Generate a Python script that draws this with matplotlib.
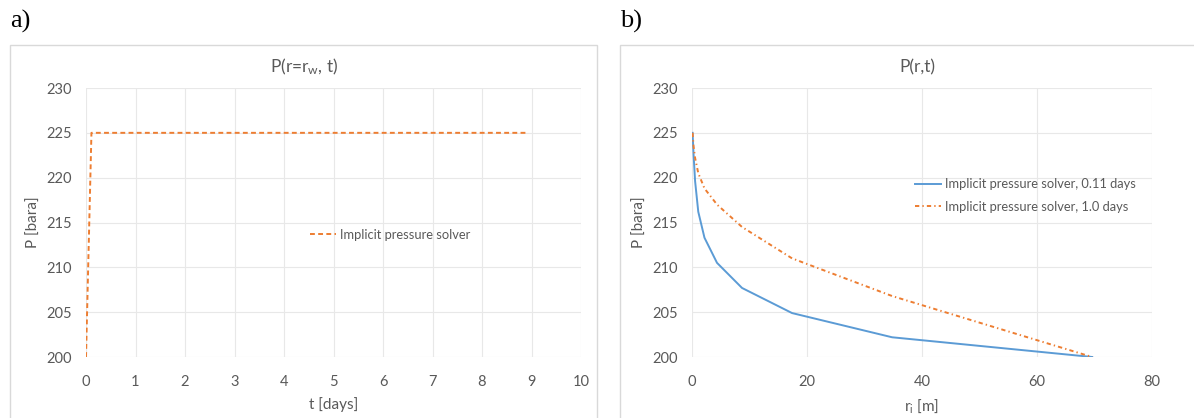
import matplotlib.pyplot as plt
from matplotlib.patches import Rectangle

plt.rcParams['font.family'] = ['Lato', 'DejaVu Sans']
plt.rcParams['mathtext.default'] = 'regular'

# well pressure vs time
t_days = [0.0, 0.11, 8.9]
p_well = [200, 225, 225]

# pressure profiles vs radius
r_i = [0.1, 0.27, 0.54, 1.09, 2.17, 4.35, 8.7, 17.4, 34.8, 69.6]
p_011 = [225, 222.6, 219.6, 216.2, 213.3, 210.5, 207.7, 204.9, 202.2, 200.0]
p_10 = [225, 223.5, 222.2, 220.5, 218.8, 217.0, 214.5, 211.0, 206.8, 200.0]

blue = '#5B9BD5'
orange = '#ED7D31'
grid_c = '#E8E8E8'
txt_c = '#595959'

fig = plt.figure(figsize=(11.94, 4.18), dpi=100)
W, H = 1194, 418

# light frame round each panel
for x0, x1 in [(10, 597), (620, 1214)]:
    fig.patches.append(Rectangle((x0 / W, -0.01), (x1 - x0) / W, 1.01 - 45 / H,
                                 transform=fig.transFigure, fill=False,
                                 edgecolor='#D9D9D9', linewidth=1.0))

fig.text(10 / W, 1 - 21 / H, 'a)', family='Liberation Serif', fontsize=19,
         va='center', ha='left')
fig.text(620 / W, 1 - 21 / H, 'b)', family='Liberation Serif', fontsize=19,
         va='center', ha='left')

# chart titles, centred on each frame
fig.text(304 / W, 1 - 67 / H, 'P(r=r$_w$, t)', fontsize=12.5, color=txt_c,
         ha='center', va='center')
fig.text(917 / W, 1 - 67 / H, 'P(r,t)', fontsize=12.5, color=txt_c,
         ha='center', va='center')

bottom = 1 - 357 / H
height = (357 - 88) / H
ax1 = fig.add_axes([86 / W, bottom, (581 - 86) / W, height])
ax2 = fig.add_axes([692 / W, bottom, (1152 - 692) / W, height])


def style(ax):
    for s in ax.spines.values():
        s.set_visible(False)
    ax.grid(True, color=grid_c, linewidth=0.8)
    ax.set_axisbelow(True)
    ax.tick_params(length=0, labelsize=10.5, labelcolor=txt_c)
    ax.tick_params(axis='x', pad=13)
    ax.tick_params(axis='y', pad=10)
    ax.set_ylim(200, 230)
    ax.set_yticks(range(200, 231, 5))


style(ax1)
ax1.plot(t_days, p_well, color=orange, linestyle=(0, (2.5, 1.7)), linewidth=1.4,
         label='Implicit pressure solver')
ax1.set_xlim(0, 10)
ax1.set_xticks(range(0, 11))
ax1.set_xlabel('t [days]', fontsize=11, color=txt_c, labelpad=6)
ax1.set_ylabel('P [bara]', fontsize=11, color=txt_c, labelpad=4)
ax1.legend(loc='center left', bbox_to_anchor=(0.43, 0.455), frameon=False,
           fontsize=9.3, labelcolor=txt_c, handlelength=2.0, handletextpad=0.3)

style(ax2)
ax2.plot(r_i, p_011, color=blue, linewidth=1.4,
         label='Implicit pressure solver, 0.11 days')
ax2.plot(r_i, p_10, color=orange, linewidth=1.4,
         linestyle=(0, (2.2, 1.6, 0.7, 1.6)),
         label='Implicit pressure solver, 1.0 days')
ax2.set_xlim(0, 80)
ax2.set_xticks(range(0, 81, 20))
ax2.set_xlabel('r$_i$ [m]', fontsize=11, color=txt_c, labelpad=6)
ax2.set_ylabel('P [bara]', fontsize=11, color=txt_c, labelpad=4)
ax2.legend(loc='center left', bbox_to_anchor=(0.46, 0.60), frameon=False,
           fontsize=9.3, labelcolor=txt_c, handlelength=2.0, handletextpad=0.3,
           labelspacing=0.8)

fig.savefig('out.png', dpi=100)
